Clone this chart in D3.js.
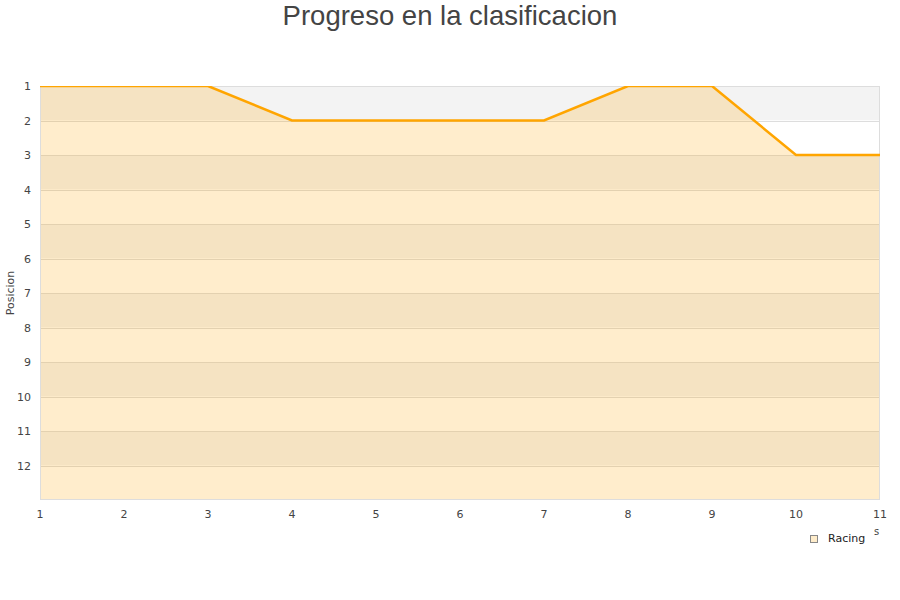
<!DOCTYPE html>
<html><head><meta charset="utf-8">
<script src="https://cdn.jsdelivr.net/npm/d3@7"></script>
<style>body{margin:0;background:#fff;}svg{display:block;}</style>
</head><body><svg id="c" width="900" height="600"></svg>
<script>
const jornadas = [1,2,3,4,5,6,7,8,9,10,11];
const posiciones = [1,1,1,2,2,2,2,1,1,3,3];
const yTicks = [1,2,3,4,5,6,7,8,9,10,11,12];
const seriesName = "Racing";
const title = "Progreso en la clasificacion";
const yLabel = "Posicion";

const svg = d3.select("#c");
const L=40,R=880,T=86,B=500;
const x = d3.scaleLinear().domain([1,11]).range([L,R]);
const y = d3.scaleLinear().domain([1,13]).range([T,B]);

const bands = d3.range(1,13);
svg.append("g").selectAll("rect").data(bands).join("rect")
  .attr("x",L).attr("width",R-L)
  .attr("y",d=>y(d)).attr("height",d=>y(d+1)-y(d))
  .attr("fill",d=>d%2===1?"#f3f3f3":"#ffffff");
svg.append("g").selectAll("line").data(yTicks.slice(1)).join("line")
  .attr("x1",L).attr("x2",R).attr("y1",d=>Math.round(y(d))+0.5).attr("y2",d=>Math.round(y(d))+0.5)
  .attr("stroke","#dddddd").attr("stroke-width",1);

svg.append("clipPath").attr("id","pc").append("rect").attr("x",L).attr("y",T).attr("width",R-L).attr("height",B-T);
const data = jornadas.map((j,i)=>({j,p:posiciones[i]}));
svg.append("path").datum(data).attr("clip-path","url(#pc)")
  .attr("d",d3.area().x(d=>x(d.j)).y0(B).y1(d=>y(d.p)))
  .attr("fill","#ffa500").attr("fill-opacity",0.2);
svg.append("rect").attr("x",L+0.5).attr("y",T+0.5).attr("width",R-L-1).attr("height",B-T-1)
  .attr("fill","none").attr("stroke","#dddddd");
svg.append("path").datum(data).attr("clip-path","url(#pc)")
  .attr("d",d3.line().x(d=>x(d.j)).y(d=>y(d.p)))
  .attr("fill","none").attr("stroke","#ffa500").attr("stroke-width",2.5);

const font = "DejaVu Sans, sans-serif";
svg.append("g").selectAll("text").data(yTicks).join("text")
  .attr("x",31).attr("y",d=>y(d)+4).attr("text-anchor","end")
  .attr("font-family",font).attr("font-size",11).attr("fill","#444").text(d=>d);
svg.append("g").selectAll("text").data(jornadas).join("text")
  .attr("x",d=>x(d)).attr("y",518).attr("text-anchor","middle")
  .attr("font-family",font).attr("font-size",11).attr("fill","#444").text(d=>d);

svg.append("text").attr("x",450).attr("y",25).attr("text-anchor","middle")
  .attr("font-family","Liberation Sans, Arial, sans-serif").attr("font-size",27.5).attr("fill","#444").text(title);
svg.append("text").attr("transform","translate(14,293) rotate(-90)").attr("text-anchor","middle")
  .attr("font-family",font).attr("font-size",11).attr("fill","#444").text(yLabel);
svg.append("text").attr("x",874).attr("y",535).attr("font-family",font).attr("font-size",10).attr("fill","#444").text("s");

svg.append("rect").attr("x",810.5).attr("y",535.5).attr("width",7).attr("height",7)
  .attr("fill","#feecca").attr("stroke","#888").attr("stroke-width",1);
svg.append("text").attr("x",828).attr("y",542).attr("font-family",font).attr("font-size",11).attr("fill","#222").text(seriesName);
</script></body></html>
